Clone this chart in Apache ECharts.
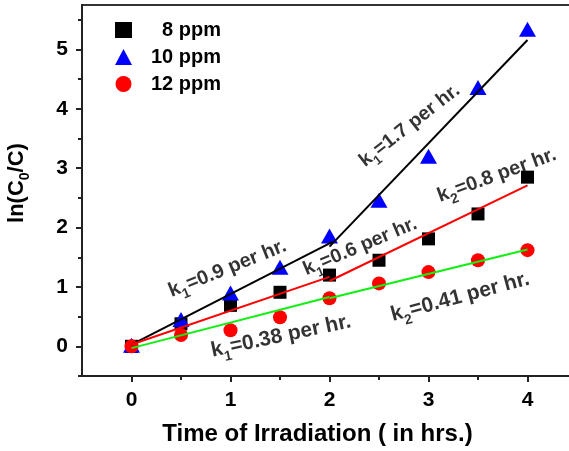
<!DOCTYPE html>
<html>
<head>
<meta charset="utf-8">
<script src="https://cdn.jsdelivr.net/npm/echarts@6/dist/echarts.min.js"></script>
<style>html,body{margin:0;padding:0;background:#fff}#c{width:569px;height:451px}</style>
</head>
<body>
<div id="c"></div>
<script>
// ---- data ----
var times = [0, 0.5, 1, 1.5, 2, 2.5, 3, 3.5, 4];
var ppm8  = [0, 0.38, 0.69, 0.91, 1.2, 1.45, 1.81, 2.23, 2.85];
var ppm10 = [0.02, 0.45, 0.9, 1.33, 1.86, 2.46, 3.2, 4.36, 5.34];
var ppm12 = [0, 0.19, 0.27, 0.49, 0.81, 1.06, 1.25, 1.45, 1.62];
// linear fit segments [x, y]
var fit10a = [[0, 0.03], [2.03, 1.76]];
var fit10b = [[2, 1.68], [4, 5.16]];
var fit8a  = [[0, 0.03], [2, 1.17]];
var fit8b  = [[2, 1.10], [4, 2.71]];
var fit12a = [[0, -0.03], [2, 0.83]];
var fit12b = [[2, 0.81], [4, 1.63]];
var xTicks = [0, 1, 2, 3, 4];
var xMinor = [0.5, 1.5, 2.5, 3.5];
var yTicks = [0, 1, 2, 3, 4, 5];
var yMinor = [-0.5, 0.5, 1.5, 2.5, 3.5, 4.5, 5.5];
var seriesNames = ['8 ppm', '10 ppm', '12 ppm'];
var annoText = ['k{s|1}=0.9 per hr.', 'k{s|1}=1.7 per hr.', 'k{s|1}=0.6 per hr.', 'k{s|2}=0.8 per hr.', 'k{s|1}=0.38 per hr.', 'k{s|2}=0.41 per hr.'];
var annoX = [0.97, 2.81, 2.31, 3.69, 1.51, 3.32];
var annoY = [1.31, 3.72, 1.68, 2.88, 0.17, 0.83];
// label styling (rotation angle in degrees, font size in px)
var annoAngle = [22, 38, 23, 20, 12, 15];
var annoSize = [20, 19.5, 19.5, 20, 21, 21];

function zip(xs, ys) { return xs.map(function (x, i) { return [x, ys[i]]; }); }

var FONT = "'Liberation Sans', Arial, sans-serif";
var chart = echarts.init(document.getElementById('c'), null, {renderer: 'canvas'});

var annoSeries = annoText.map(function (t, i) {
  var fs = annoSize[i];
  return {
    type: 'scatter', symbolSize: 0, z: 10, silent: true,
    data: [[annoX[i], annoY[i]]],
    label: {
      show: true, position: 'inside', rotate: annoAngle[i],
      formatter: t,
      fontFamily: FONT, fontWeight: 'bold', fontSize: fs, color: '#000', lineHeight: fs * 1.5,
      rich: { s: { fontFamily: FONT, fontWeight: 'bold', fontSize: Math.round(fs * 0.68), lineHeight: fs * 1.5, verticalAlign: 'bottom', color: '#000' } }
    }
  };
});

function fitLine(d, color) {
  return { type: 'line', data: d, symbol: 'none', z: 5, silent: true, lineStyle: { color: color, width: 2 } };
}

var axisLineStyle = { show: true, onZero: false, lineStyle: { color: '#222', width: 2 } };

chart.setOption({
  animation: false,
  grid: { left: 82, right: -8, top: 5, bottom: 75, show: true, borderColor: '#333', borderWidth: 2, outerBoundsMode: 'none', containLabel: false },
  legend: {
    data: seriesNames, orient: 'vertical', left: 110, top: 15,
    itemWidth: 17, itemHeight: 16, itemGap: 7,
    formatter: function (n) { return n === '8 ppm' ? '  ' + n : n; },
    textStyle: { fontFamily: FONT, fontWeight: 'bold', fontSize: 20, color: '#000', padding: [0, 0, 0, 14] }
  },
  xAxis: [{
    type: 'value', min: -0.5, max: 4.5,
    name: 'Time of Irradiation ( in hrs.)', nameLocation: 'middle', nameGap: 46,
    nameTextStyle: { fontFamily: FONT, fontWeight: 'bold', fontSize: 24, color: '#000', padding: [0, 24, 0, 0] },
    axisLine: axisLineStyle,
    axisTick: { show: true, inside: false, length: 6, customValues: xTicks, lineStyle: { color: '#222', width: 2 } },
    axisLabel: { customValues: xTicks, margin: 14, fontFamily: FONT, fontWeight: 'bold', fontSize: 21, color: '#000' },
    splitLine: { show: false }
  }, {
    type: 'value', min: -0.5, max: 4.5, position: 'bottom',
    axisLine: { show: false, onZero: false },
    axisTick: { show: true, length: 4, customValues: xMinor, lineStyle: { color: '#222', width: 2 } },
    axisLabel: { show: false }, splitLine: { show: false }
  }],
  yAxis: [{
    type: 'value', min: -0.5, max: 5.75,
    name: 'ln(C{s|0}/C)', nameLocation: 'middle', nameGap: 50,
    nameTextStyle: { fontFamily: FONT, fontWeight: 'bold', fontSize: 22, color: '#000', padding: [0, 0, 0, 15], lineHeight: 30,
      rich: { s: { fontFamily: FONT, fontWeight: 'bold', fontSize: 14, lineHeight: 30, verticalAlign: 'bottom', color: '#000' } } },
    axisLine: axisLineStyle,
    axisTick: { show: true, inside: false, length: 6, customValues: yTicks, lineStyle: { color: '#222', width: 2 } },
    axisLabel: { customValues: yTicks, margin: 14, fontFamily: FONT, fontWeight: 'bold', fontSize: 21, color: '#000' },
    splitLine: { show: false }
  }, {
    type: 'value', min: -0.5, max: 5.75, position: 'left',
    axisLine: { show: false, onZero: false },
    axisTick: { show: true, length: 4, customValues: yMinor, lineStyle: { color: '#222', width: 2 } },
    axisLabel: { show: false }, splitLine: { show: false }
  }],
  series: [
    { name: '8 ppm', type: 'scatter', symbol: 'rect', symbolSize: 13, z: 3, itemStyle: { color: '#000', opacity: 1 }, data: zip(times, ppm8) },
    { name: '10 ppm', type: 'scatter', symbol: 'triangle', symbolSize: [17, 15], z: 3, itemStyle: { color: '#0000ff', opacity: 1 }, data: zip(times, ppm10) },
    { name: '12 ppm', type: 'scatter', symbol: 'circle', symbolSize: 14, z: 3, itemStyle: { color: '#ff0000', opacity: 1 }, data: zip(times, ppm12) },
    fitLine(fit10a, '#000'), fitLine(fit10b, '#000'),
    fitLine(fit8a, '#ff0000'), fitLine(fit8b, '#ff0000'),
    fitLine(fit12a, '#11ee11'), fitLine(fit12b, '#11ee11')
  ].concat(annoSeries)
});
</script>
</body>
</html>
